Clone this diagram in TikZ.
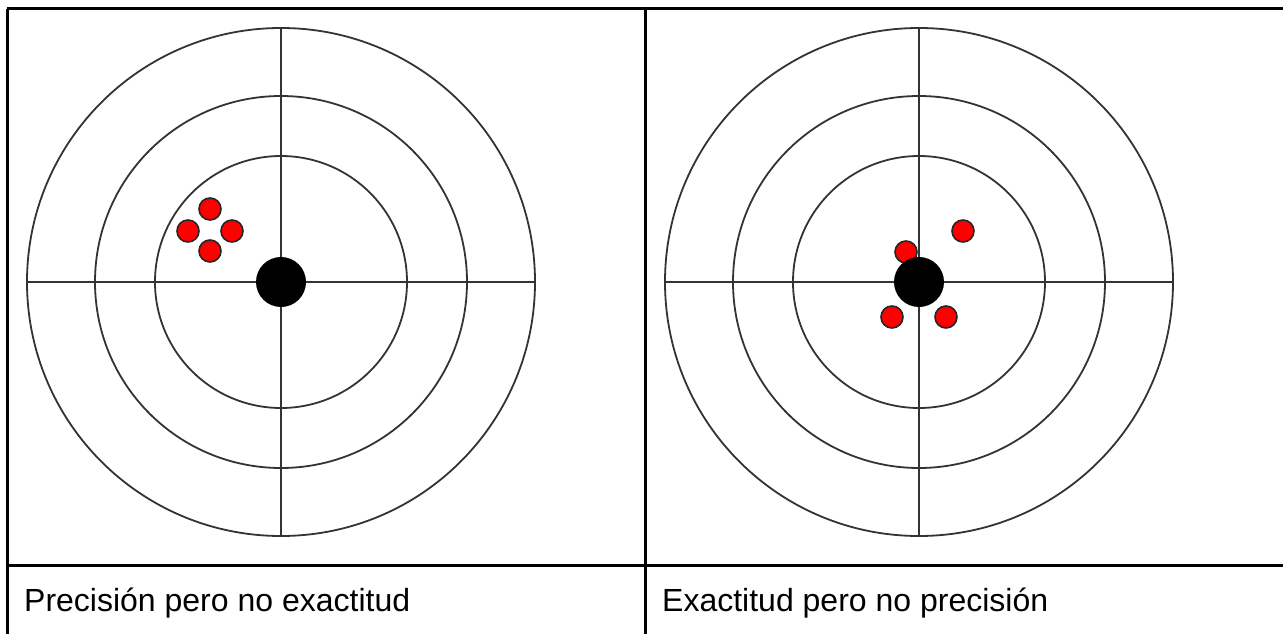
\documentclass[tikz,border=0pt]{standalone}
\usepackage{fontspec}
\setmainfont{Liberation Sans}
\usetikzlibrary{positioning}

\tikzset{
  ring/.style={draw=black!80, line width=1.8pt},
  cross/.style={draw=black!80, line width=1.8pt},
  hit/.style={fill=red, draw=black!85, line width=1.6pt},
  bull/.style={fill=black},
  grid/.style={draw=black, line width=3pt},
  caption/.style={anchor=base west, inner sep=0pt, font=\fontsize{32}{38}\selectfont}
}

\begin{document}
\begin{tikzpicture}[x=1pt, y=-1pt]
                \useasboundingbox (0,0) rectangle (1283,634);

                % Table lines
                \draw[grid] (7,9) -- (1283,9);
                \draw[grid] (7,9) -- (7,634);
                \draw[grid] (645.5,9) -- (645.5,634);
                \draw[grid] (7,565) -- (1283,565);

                % Left target (precision, no accuracy)
                \coordinate (lc) at (281,282);
                \draw[ring] (lc) circle (254);
                \draw[ring] (lc) circle (186);
                \draw[ring] (lc) circle (126);
                \draw[cross] (27,282) -- (535,282);
                \draw[cross] (281,28) -- (281,536);
                \draw[hit] (210,209) circle (11);
                \draw[hit] (188,231) circle (11);
                \draw[hit] (232,231) circle (11);
                \draw[hit] (210,251) circle (11);
                \fill[bull] (lc) circle (25);

                % Right target (accuracy, no precision)
                \coordinate (rc) at (919,282);
                \draw[ring] (rc) circle (254);
                \draw[ring] (rc) circle (186);
                \draw[ring] (rc) circle (126);
                \draw[cross] (665,282) -- (1173,282);
                \draw[cross] (919,28) -- (919,536);
                \draw[hit] (963,231) circle (11);
                \draw[hit] (906,252) circle (11);
                \draw[hit] (892,317) circle (11);
                \draw[hit] (946,317) circle (11);
                \fill[bull] (rc) circle (25);

                % Captions
                \node[caption] (capl) at (24,611) {Precisión pero no exactitud};
                \node[caption] (capr) at (662,611) {Exactitud pero no precisión};
            \end{tikzpicture}
\end{document}
